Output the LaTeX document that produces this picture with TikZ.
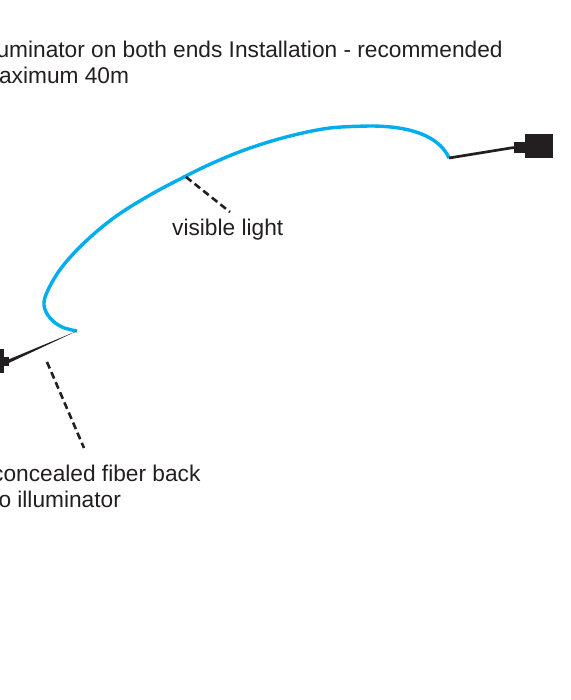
\documentclass[tikz,border=0pt]{standalone}
\usepackage{fontspec}
\setmainfont{Liberation Sans}
\usetikzlibrary{calc}
\definecolor{fiberblue}{HTML}{00AEEF}
\definecolor{ink}{HTML}{231F20}
\begin{document}
\begin{tikzpicture}[x=1pt,y=-1pt,
  lbl/.style={font=\fontsize{22.7pt}{26pt}\selectfont, text=ink, inner sep=0pt, anchor=base west, align=left},
  fiber/.style={draw=fiberblue, line width=3.4pt},
  cable/.style={draw=ink, line width=2.7pt},
  leader/.style={draw=ink, line width=2.6pt, dash pattern=on 7pt off 4pt},
  plugpart/.style={fill=ink, draw=none, inner sep=0pt}
]
\path[use as bounding box] (0,0) rectangle (570,700);
\clip (0,0) rectangle (570,700);
\fill[white] (0,0) rectangle (570,700);

% texts (anchor = baseline of the last line)
\node[lbl] (title) at (-20,84) {Illuminator on both ends Installation - recommended\\maximum 40m};
\node[lbl] (vis) at (172,236) {visible light};
\node[lbl] (conc) at (-8,507) {concealed fiber back\\to illuminator};

% plugs
\node[plugpart, minimum width=28pt, minimum height=24pt] (rbody) at (539,146) {};
\node[plugpart, minimum width=12pt, minimum height=11pt] (rneck) at (520,147.5) {};
\node[plugpart, minimum width=29pt, minimum height=24pt] (lbody) at (-10.5,360.5) {};
\node[plugpart, minimum width=7pt, minimum height=9pt] (lneck) at (5.5,361) {};

% fibre ends
\coordinate (fibR) at (449,158);
\coordinate (fibL) at (77,331);

% visible fibre
\draw[fiber] (fibR) .. controls (441,140) and (418,126) .. (370,126)
  plot[smooth, tension=0.6] coordinates {
  (370,126) (330,128) (290,136)
  (250,148) (215,162) (186,176) (150,195) (115,217) (85,242) (62,267)
  (48,290) (44,305) (50,318) (62,327) (77,331)};

% cables to illuminators
\draw[cable] (fibR) -- (rneck.west);
\fill[ink] (fibL) -- ($(lneck.east)+(0,-1.8)$) -- ($(lneck.east)+(0,1.8)$) -- cycle;

% leaders
\coordinate (v1) at (186,177);
\coordinate (v2) at (230,212);
\coordinate (c1) at (47,362);
\coordinate (c2) at (84,448);
\draw[leader] (v1) -- (v2);
\draw[leader] (c1) -- (c2);
\end{tikzpicture}
\end{document}
